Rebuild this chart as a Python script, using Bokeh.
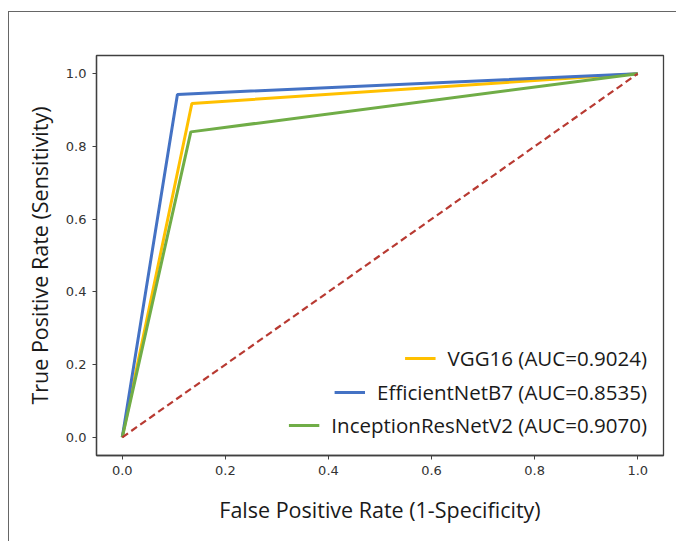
from bokeh.plotting import figure
from bokeh.models import Legend, LegendItem, FixedTicker, PrintfTickFormatter
from bokeh.embed import file_html
from bokeh.resources import INLINE

# ROC data
fpr_vgg = [0.0, 0.135, 1.0]
tpr_vgg = [0.0, 0.918, 1.0]
fpr_eff = [0.0, 0.107, 1.0]
tpr_eff = [0.0, 0.943, 1.0]
fpr_inc = [0.0, 0.133, 1.0]
tpr_inc = [0.0, 0.840, 1.0]
diag_x = [0.0, 1.0]
diag_y = [0.0, 1.0]

labels = ["VGG16 (AUC=0.9024)", "EfficientNetB7 (AUC=0.8535)", "InceptionResNetV2 (AUC=0.9070)"]
ticks = [0.0, 0.2, 0.4, 0.6, 0.8, 1.0]

p = figure(width=668, height=530, x_range=(-0.05, 1.05), y_range=(-0.05, 1.05),
           output_backend="svg", toolbar_location=None,
           min_border_left=87, min_border_top=43, min_border_right=14, min_border_bottom=87)
p.styles = {"border-top": "1.5px solid #666666", "border-left": "1.5px solid #666666",
            "margin-left": "8px", "margin-top": "11px"}

p.grid.visible = False
p.outline_line_color = "#404040"
p.outline_line_width = 1.3

r_vgg = p.line(fpr_vgg, tpr_vgg, line_color="#FFC000", line_width=3)
r_eff = p.line(fpr_eff, tpr_eff, line_color="#4472C4", line_width=3)
r_inc = p.line(fpr_inc, tpr_inc, line_color="#70AD47", line_width=3)
p.line(diag_x, diag_y, line_color="#B83A32", line_width=2.2, line_dash="7 4")

for ax in (p.xaxis[0], p.yaxis[0]):
    ax.ticker = FixedTicker(ticks=ticks)
    ax.formatter = PrintfTickFormatter(format="%.1f")
    ax.minor_tick_line_color = None
    ax.major_tick_in = 0
    ax.major_tick_out = 4
    ax.major_tick_line_color = "#404040"
    ax.axis_line_color = "#404040"
    ax.axis_line_width = 1.3
    ax.major_label_text_font = "DejaVu Sans"
    ax.major_label_text_font_size = "13px"
    ax.major_label_text_color = "#333333"
    ax.major_label_standoff = 6
    ax.axis_label_text_font = "Open Sans"
    ax.axis_label_text_font_size = "21.5px"
    ax.axis_label_text_font_style = "normal"
    ax.axis_label_text_color = "#1a1a1a"

p.xaxis.axis_label = "False Positive Rate (1-Specificity)"
p.yaxis.axis_label = "True Positive Rate (Sensitivity)"
p.xaxis.axis_label_standoff = 17
p.yaxis.axis_label_standoff = 9

# right-aligned legend entries: one legend per entry, all anchored bottom_right
entries = [(labels[0], r_vgg, 162), (labels[1], r_eff, 94), (labels[2], r_inc, 28)]
for text, rend, h in entries:
    lg = Legend(items=[LegendItem(label=text, renderers=[rend])], location="bottom_right",
                margin=16, padding=0, spacing=0, border_line_color=None,
                background_fill_alpha=0, glyph_width=31, glyph_height=h,
                label_height=h, label_standoff=12,
                label_text_font="Open Sans", label_text_font_size="20.5px",
                label_text_color="#1a1a1a")
    p.add_layout(lg, "center")

open("out.html", "w").write(file_html(p, INLINE))
